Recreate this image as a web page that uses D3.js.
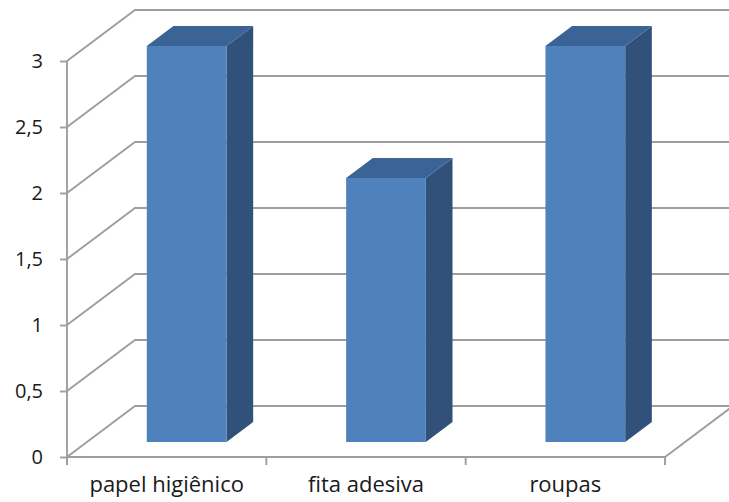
<!DOCTYPE html>
<html>
<head>
<meta charset="utf-8">
<script src="https://cdn.jsdelivr.net/npm/d3@7"></script>
<style>
  html, body { margin: 0; padding: 0; background: #fff; }
  svg { display: block; }
</style>
</head>
<body>
<svg id="chart" width="729" height="502"></svg>
<script>
// Data
const categories = ["papel higiênico", "fita adesiva", "roupas"];
const values = [3, 2, 3];
const yTicks = [0, 0.5, 1, 1.5, 2, 2.5, 3];

// Layout of the 3D box (oblique projection)
const W = 729, H = 502;
const plotLeft = 67, plotRight = 665;
const floorY = 457, topY = 61;
const depth = 85;               // total depth of the box
const kx = 0.8, ky = 0.6;       // projection of depth onto screen x / y
const barZ0 = 25, barZ1 = 58.3; // bar front / back depth

const svg = d3.select("#chart");

const x = d3.scaleBand().domain(categories).range([plotLeft, plotRight]).padding(0);
const xBar = d3.scaleBand().domain(categories).range([plotLeft, plotRight])
  .paddingInner(0.6).paddingOuter(0.3);
const y = d3.scaleLinear().domain([0, 3]).range([floorY, topY]);

const P = (px, py, z) => [px + z * kx, py - z * ky];
const line = d3.line();

const gridColor = "#9e9e9e";
const gridW = 1.9;

// Walls: side-wall diagonals and back-wall horizontals for every tick
const walls = svg.append("g").attr("fill", "none").attr("stroke", gridColor).attr("stroke-width", gridW);
yTicks.forEach(v => {
  const yy = y(v);
  walls.append("path").attr("d", line([
    P(plotLeft, yy, 0),
    P(plotLeft, yy, depth),
    P(plotRight, yy, depth)
  ]));
});
// Floor front edge and right edge
walls.append("path").attr("d", line([
  P(plotLeft, floorY, 0), P(plotRight, floorY, 0), P(plotRight, floorY, depth)
]));

// Bars
const colFront = "#4f81bd", colTop = "#3c6395", colSide = "#31517b";
const bars = svg.append("g");
categories.forEach((c, i) => {
  const x0 = xBar(c), x1 = xBar(c) + xBar.bandwidth();
  const yb = y(0), yt = y(values[i]);
  const g = bars.append("g");
  // right side
  g.append("path").attr("fill", colSide).attr("d", line([
    P(x1, yb, barZ0), P(x1, yb, barZ1), P(x1, yt, barZ1), P(x1, yt, barZ0)
  ]) + "Z");
  // top
  g.append("path").attr("fill", colTop).attr("d", line([
    P(x0, yt, barZ0), P(x1, yt, barZ0), P(x1, yt, barZ1), P(x0, yt, barZ1)
  ]) + "Z");
  // front
  g.append("path").attr("fill", colFront).attr("d", line([
    P(x0, yb, barZ0), P(x1, yb, barZ0), P(x1, yt, barZ0), P(x0, yt, barZ0)
  ]) + "Z");
});

// Value axis
const yAxis = d3.axisLeft(y)
  .tickValues(yTicks)
  .tickSize(7)
  .tickPadding(17)
  .tickFormat(d => String(d).replace(".", ","));
const ga = svg.append("g").attr("transform", `translate(${plotLeft},0)`).call(yAxis);
ga.select(".domain").attr("stroke", gridColor).attr("stroke-width", gridW)
  .attr("d", `M0,${topY}V${floorY + 8}`);
ga.selectAll(".tick line").attr("stroke", gridColor).attr("stroke-width", gridW);
ga.selectAll(".tick text")
  .attr("font-family", "'Open Sans', sans-serif")
  .attr("font-size", 20)
  .attr("fill", "#1a1a1a");

// Category axis
const gx = svg.append("g").attr("transform", `translate(0,${floorY})`);
// boundary tick marks
const bounds = categories.map(c => x(c)).concat([plotRight]);
gx.selectAll("line.bt").data(bounds).join("line")
  .attr("class", "bt")
  .attr("x1", d => d).attr("x2", d => d)
  .attr("y1", 0).attr("y2", 8)
  .attr("stroke", gridColor).attr("stroke-width", gridW);
gx.selectAll("text.cat").data(categories).join("text")
  .attr("class", "cat")
  .attr("x", d => x(d) + x.bandwidth() / 2)
  .attr("y", 35)
  .attr("text-anchor", "middle")
  .attr("font-family", "'Open Sans', sans-serif")
  .attr("font-size", 22)
  .attr("fill", "#1a1a1a")
  .text(d => d);
</script>
</body>
</html>
